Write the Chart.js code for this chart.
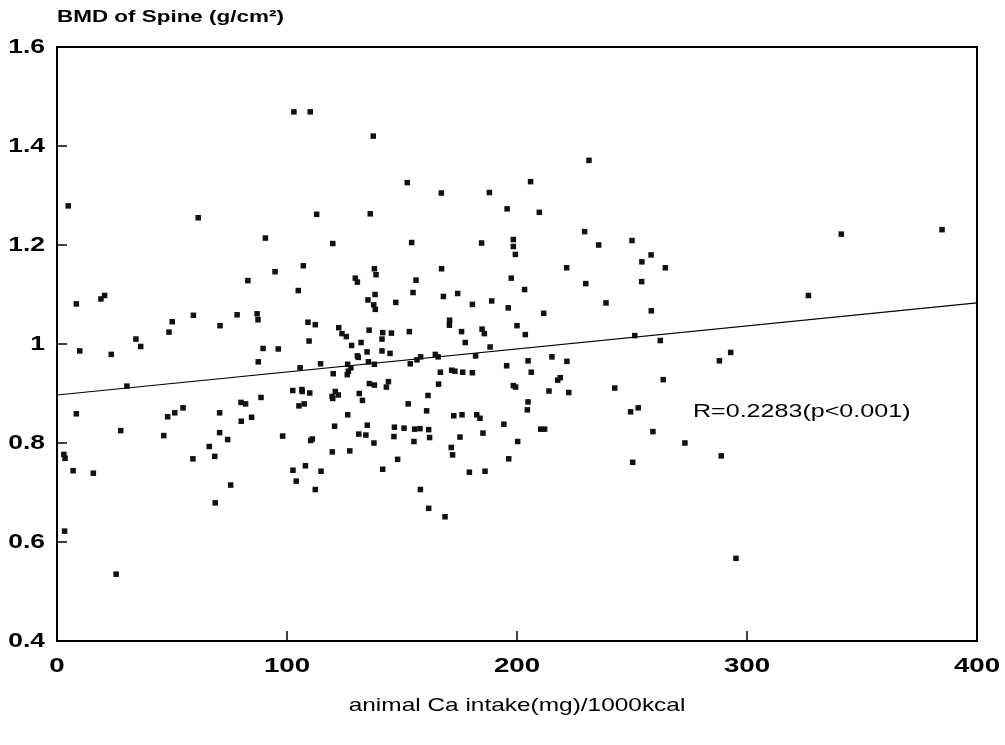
<!DOCTYPE html>
<html>
<head>
<meta charset="utf-8">
<script src="https://cdn.jsdelivr.net/npm/chart.js@4"></script>
<style>
  body { margin: 0; background: #fff; }
  #wrap { width: 1005px; height: 745px; }
</style>
</head>
<body>
<div id="wrap"><canvas id="bmd-chart"></canvas></div>
<script>
// animal Ca intake (mg/1000kcal) vs spine BMD
const caIntake = [
  4.9, 61.4, 90.6, 103, 110.1, 137.5, 152.3, 167.1, 188, 195.7,
  112.9, 136.2, 119.9, 154.2, 184.6, 198.4, 198.4, 231.3, 205.9, 209.7,
  229.4, 250, 235.5, 341, 384.8, 94.8, 83, 8.4, 19.1, 20.7,
  50.1, 59.3, 78.3, 87, 87.4, 70.9, 48.7, 34.3, 36.4, 9.9,
  23.6, 89.6, 96.2, 87.5, 30.4, 88.7, 8.4, 51.2, 48.1, 54.8,
  70.7, 80, 82, 80.1, 84.6, 27.7, 46.4, 70.7, 74.2, 98.1,
  66.2, 3, 3.5, 7, 15.8, 59.1, 68.6, 75.5, 68.8, 3.3,
  25.7, 199.3, 107.1, 138, 138.7, 129.7, 130.6, 167.2, 156.1, 197.5,
  104.9, 138.3, 135.2, 154.8, 174.2, 168, 147.3, 137.7, 138.4, 180.6,
  189, 196.2, 200, 170.7, 170.6, 109.1, 112.3, 122.5, 123.9, 125.8,
  135.7, 141.6, 141.3, 145.4, 153.2, 175.9, 184.8, 185.8, 177.5, 109.6,
  128.1, 132.2, 134.8, 141.3, 144.8, 188.3, 130.6, 131, 182, 114.6,
  105.7, 126.4, 127.8, 126.7, 135.4, 138, 153.6, 156.5, 158.1, 164.5,
  165.7, 120.1, 126.2, 195.5, 166.7, 171.6, 173, 176.4, 180.6, 135.8,
  138, 144.1, 143.2, 165.9, 198.4, 199.4, 102.5, 106.5, 106.6, 109.9,
  119.6, 121, 119.9, 122.3, 131.4, 132.8, 161.3, 105.2, 107.5, 152.7,
  160.7, 126.4, 172.5, 176.1, 182.5, 183.9, 120.7, 134.9, 146.7, 150.9,
  155.5, 157.8, 161.6, 194.3, 131.2, 134.3, 146.5, 162, 175.2, 185.2,
  110.3, 111, 155.2, 137.8, 200.3, 119.7, 127.3, 171.4, 172, 102.6,
  108, 114.8, 104, 112.3, 141.6, 148.1, 179.3, 186.1, 196.4, 158,
  161.6, 168.7, 258.3, 254.3, 264.5, 221.6, 229.9, 254.2, 203.3, 238.7,
  211.6, 258.4, 203.6, 251.2, 262.3, 204.8, 215.2, 221.7, 206.2, 218.8,
  217.7, 213.9, 222.5, 242.5, 263.6, 204.8, 204.5, 249.4, 252.7, 292.9,
  288, 210.3, 212, 259.1, 273, 288.8, 250.3, 295.2, 326.7
];
const spineBmd = [
  1.279, 1.255, 1.214, 1.469, 1.469, 1.42, 1.326, 1.305, 1.306, 1.273,
  1.262, 1.263, 1.203, 1.205, 1.204, 1.211, 1.197, 1.371, 1.328, 1.266,
  1.227, 1.209, 1.2, 1.222, 1.231, 1.146, 1.128, 1.081, 1.091, 1.098,
  1.045, 1.058, 1.059, 1.061, 1.049, 1.037, 1.024, 1.01, 0.995, 0.986,
  0.979, 0.991, 0.99, 0.964, 0.915, 0.892, 0.859, 0.861, 0.853, 0.871,
  0.861, 0.882, 0.879, 0.844, 0.852, 0.825, 0.815, 0.821, 0.807, 0.814,
  0.793, 0.777, 0.769, 0.744, 0.739, 0.768, 0.773, 0.715, 0.679, 0.622,
  0.535, 1.181, 1.158, 1.152, 1.14, 1.133, 1.125, 1.152, 1.129, 1.133,
  1.108, 1.1, 1.089, 1.104, 1.102, 1.096, 1.084, 1.079, 1.07, 1.08,
  1.087, 1.073, 1.037, 1.048, 1.038, 1.044, 1.039, 1.033, 1.021, 1.015,
  1.028, 1.023, 1.01, 1.022, 1.025, 1.025, 1.03, 1.021, 1.003, 1.006,
  0.997, 1.003, 0.984, 0.986, 0.981, 0.994, 0.976, 0.973, 0.976, 0.96,
  0.952, 0.959, 0.952, 0.945, 0.964, 0.959, 0.96, 0.968, 0.974, 0.979,
  0.974, 0.94, 0.938, 0.956, 0.943, 0.947, 0.945, 0.943, 0.942, 0.92,
  0.917, 0.924, 0.913, 0.919, 0.916, 0.913, 0.906, 0.908, 0.904, 0.901,
  0.894, 0.904, 0.89, 0.897, 0.9, 0.886, 0.896, 0.875, 0.879, 0.879,
  0.865, 0.857, 0.855, 0.857, 0.857, 0.85, 0.834, 0.836, 0.832, 0.83,
  0.828, 0.829, 0.827, 0.838, 0.818, 0.816, 0.813, 0.811, 0.812, 0.82,
  0.805, 0.808, 0.803, 0.8, 0.803, 0.782, 0.784, 0.791, 0.776, 0.745,
  0.754, 0.743, 0.723, 0.706, 0.747, 0.767, 0.741, 0.743, 0.768, 0.706,
  0.668, 0.651, 1.18, 1.166, 1.154, 1.154, 1.122, 1.126, 1.11, 1.083,
  1.062, 1.067, 1.019, 1.017, 1.007, 0.966, 0.974, 0.965, 0.943, 0.932,
  0.927, 0.905, 0.902, 0.911, 0.928, 0.883, 0.867, 0.863, 0.871, 0.983,
  0.966, 0.828, 0.828, 0.823, 0.8, 0.774, 0.761, 0.567, 1.098
];

// regression line end points
const fitX = [0, 400];
const fitY = [0.897, 1.083];

const xTickLabels = ["0", "100", "200", "300", "400"];
const yTickLabels = ["0.4", "0.6", "0.8", "1", "1.2", "1.4", "1.6"];

const yTitle = "BMD of Spine (g/cm\u00b2)";
const xTitle = "animal Ca intake(mg)/1000kcal";
const rNote = "R=0.2283(p<0.001)";

const FONT = "'Liberation Sans', Arial, sans-serif";

// the scan is stretched sideways, so text is drawn a bit wide
function wideText(ctx, text, x, y, align, font) {
  ctx.save();
  ctx.font = font;
  ctx.fillStyle = "#000";
  ctx.textAlign = align;
  ctx.textBaseline = "middle";
  ctx.translate(x, y);
  ctx.scale(1.32, 1);
  ctx.fillText(text, 0, 0);
  ctx.restore();
}

const framePlugin = {
  id: "framePlugin",
  afterDraw(chart) {
    const { ctx, chartArea, scales } = chart;
    const { left, right, top, bottom } = chartArea;
    ctx.save();
    ctx.strokeStyle = "#000";
    ctx.lineWidth = 2;
    ctx.strokeRect(left, top, right - left, bottom - top);

    ctx.lineWidth = 1.5;
    scales.x.ticks.forEach((t, i) => {
      const px = scales.x.getPixelForValue(t.value);
      ctx.beginPath();
      ctx.moveTo(px, bottom);
      ctx.lineTo(px, bottom - 10);
      ctx.stroke();
      wideText(ctx, xTickLabels[i], px, bottom + 25, "center", "bold 21px " + FONT);
    });
    scales.y.ticks.forEach((t, i) => {
      const py = scales.y.getPixelForValue(t.value);
      ctx.beginPath();
      ctx.moveTo(left, py);
      ctx.lineTo(left + 10, py);
      ctx.stroke();
      wideText(ctx, yTickLabels[i], left - 12, py, "right", "bold 20px " + FONT);
    });
    ctx.restore();

    wideText(ctx, yTitle, left, 17, "left", "bold 17px " + FONT);
    wideText(ctx, xTitle, (left + right) / 2, 706, "center", "18.5px " + FONT);
    wideText(ctx, rNote, scales.x.getPixelForValue(276.5), scales.y.getPixelForValue(0.864),
      "left", "19px " + FONT);
  }
};

const points = caIntake.map((x, i) => ({ x: x, y: spineBmd[i] }));
const fitLine = fitX.map((x, i) => ({ x: x, y: fitY[i] }));

new Chart(document.getElementById("bmd-chart"), {
  type: "scatter",
  data: {
    datasets: [
      {
        data: points,
        pointStyle: "rect",
        pointRadius: 3.9,
        backgroundColor: "#111",
        borderWidth: 0
      },
      {
        type: "line",
        data: fitLine,
        borderColor: "#000",
        borderWidth: 1.1,
        pointRadius: 0,
        fill: false
      }
    ]
  },
  options: {
    responsive: true,
    maintainAspectRatio: false,
    animation: false,
    layout: { padding: { left: 57, top: 47, right: 28, bottom: 104 } },
    plugins: { legend: { display: false }, tooltip: { enabled: false } },
    scales: {
      x: {
        type: "linear",
        min: 0,
        max: 400,
        ticks: { stepSize: 100, display: false },
        grid: { display: false, drawTicks: false },
        border: { display: false }
      },
      y: {
        min: 0.4,
        max: 1.6,
        ticks: { stepSize: 0.2, display: false },
        grid: { display: false, drawTicks: false },
        border: { display: false }
      }
    }
  },
  plugins: [framePlugin]
});
</script>
</body>
</html>
